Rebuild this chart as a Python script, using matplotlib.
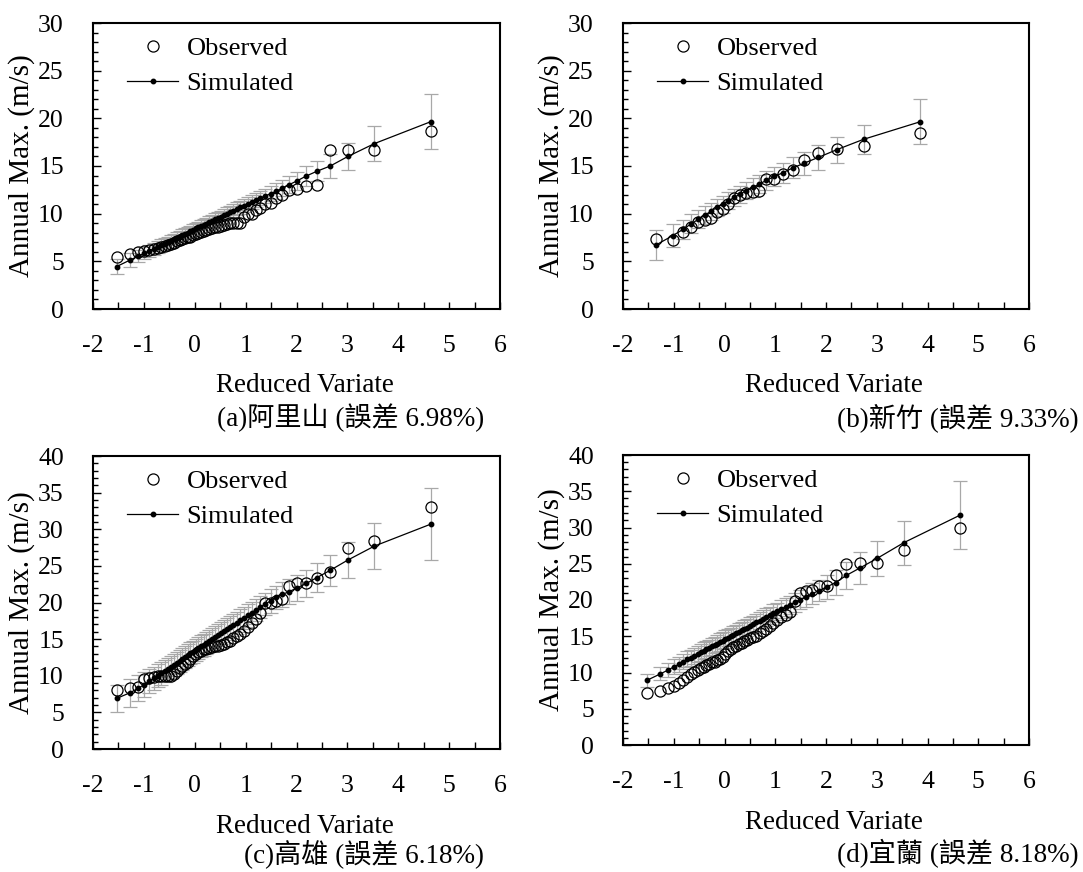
import matplotlib
matplotlib.use('Agg')
import matplotlib.pyplot as plt
from matplotlib.ticker import MultipleLocator

plt.rcParams['font.family'] = ['Liberation Serif', 'Noto Sans CJK TC']
plt.rcParams['axes.unicode_minus'] = False
plt.rcParams['font.size'] = 18.5

# reduced variate positions (52 yrs / 24 yrs of record)
x52 = [-1.536, -1.266, -1.110, -0.993, -0.895, -0.809, -0.732, -0.661, -0.594, -0.531,
       -0.470, -0.411, -0.355, -0.299, -0.245, -0.191, -0.138, -0.085, -0.033, 0.019,
       0.072, 0.124, 0.177, 0.230, 0.284, 0.339, 0.394, 0.451, 0.509, 0.568,
       0.628, 0.691, 0.755, 0.822, 0.891, 0.963, 1.039, 1.118, 1.202, 1.291,
       1.387, 1.489, 1.601, 1.723, 1.859, 2.014, 2.191, 2.402, 2.664, 3.010,
       3.531, 4.640]
x24 = [-1.354, -1.020, -0.816, -0.655, -0.515, -0.388, -0.267, -0.151, -0.037, 0.076,
       0.190, 0.307, 0.427, 0.553, 0.685, 0.827, 0.982, 1.152, 1.346, 1.572,
       1.848, 2.207, 2.740, 3.861]

# (a) Alishan
obs_a = [5.5, 5.8, 6.0, 6.1, 6.2, 6.3, 6.4, 6.5, 6.6, 6.7,
         6.8, 6.9, 7.1, 7.2, 7.3, 7.4, 7.5, 7.6, 7.8, 7.9,
         8.0, 8.1, 8.2, 8.3, 8.4, 8.5, 8.6, 8.6, 8.7, 8.8,
         8.9, 9.0, 9.0, 9.0, 9.0, 9.7, 10.0, 10.0, 10.4, 10.6,
         11.0, 11.1, 11.6, 12.0, 12.5, 12.6, 12.9, 13.0, 16.7, 16.7,
         16.7, 18.7]
sim_a = [4.45, 5.15, 5.55, 5.85, 6.1, 6.3, 6.5, 6.7, 6.85, 7.0,
         7.15, 7.3, 7.45, 7.6, 7.75, 7.9, 8.0, 8.15, 8.3, 8.45,
         8.55, 8.7, 8.85, 8.95, 9.1, 9.25, 9.4, 9.55, 9.7, 9.85,
         10.0, 10.15, 10.3, 10.5, 10.65, 10.85, 11.05, 11.25, 11.45, 11.65,
         11.85, 12.1, 12.35, 12.7, 13.05, 13.45, 13.95, 14.45, 15.0, 16.0,
         17.35, 19.65]
err_a = [0.75, 0.7, 0.65, 0.62, 0.6, 0.6, 0.6, 0.6, 0.6, 0.6,
         0.6, 0.6, 0.6, 0.6, 0.6, 0.6, 0.6, 0.6, 0.6, 0.6,
         0.6, 0.6, 0.6, 0.62, 0.62, 0.62, 0.62, 0.63, 0.63, 0.64,
         0.65, 0.66, 0.67, 0.68, 0.69, 0.7, 0.71, 0.72, 0.73, 0.75,
         0.77, 0.79, 0.82, 0.85, 0.88, 0.92, 1.0, 1.05, 1.25, 1.45,
         1.85, 2.9]

# (b) Hsinchu
obs_b = [7.3, 7.25, 8.05, 8.65, 9.15, 9.35, 9.5, 10.2, 10.45, 11.0,
         11.6, 11.95, 12.2, 12.3, 12.4, 13.65, 13.65, 14.2, 14.6, 15.6,
         16.4, 16.75, 17.1, 18.5]
sim_b = [6.7, 7.7, 8.35, 8.95, 9.4, 9.85, 10.25, 10.65, 11.0, 11.35,
         11.7, 12.05, 12.4, 12.75, 13.1, 13.5, 13.9, 14.3, 14.8, 15.3,
         15.9, 16.7, 17.8, 19.65]
err_b = [1.55, 1.2, 1.0, 1.0, 0.95, 0.95, 0.9, 0.9, 0.9, 0.9,
         0.9, 0.9, 0.9, 0.95, 0.95, 1.0, 1.0, 1.05, 1.1, 1.2,
         1.3, 1.35, 1.5, 2.35]

# (c) Kaohsiung
obs_c = [8.1, 8.3, 8.5, 9.6, 9.7, 9.8, 9.9, 9.9, 9.9, 10.0,
         10.0, 10.3, 10.7, 11.0, 11.3, 11.6, 11.9, 12.3, 12.7, 13.0,
         13.2, 13.4, 13.6, 13.7, 13.8, 13.9, 14.0, 14.1, 14.2, 14.4,
         14.6, 14.8, 15.1, 15.4, 15.7, 16.1, 16.6, 17.2, 17.8, 18.5,
         19.9, 20.0, 20.2, 20.5, 22.3, 22.6, 22.6, 23.4, 24.2, 27.5,
         28.4, 33.0]
sim_c = [6.9, 7.7, 8.3, 8.8, 9.25, 9.65, 10.0, 10.35, 10.65, 10.95,
         11.25, 11.5, 11.8, 12.05, 12.3, 12.55, 12.8, 13.05, 13.3, 13.55,
         13.8, 14.0, 14.25, 14.5, 14.75, 15.0, 15.25, 15.5, 15.8, 16.05,
         16.35, 16.65, 16.95, 17.25, 17.55, 17.9, 18.25, 18.6, 19.0, 19.4,
         19.8, 20.2, 20.7, 21.1, 21.5, 22.0, 22.6, 23.4, 24.4, 25.8,
         27.7, 30.7]
err_c = [1.8, 1.9, 1.8, 1.7, 1.65, 1.6, 1.6, 1.55, 1.55, 1.5,
         1.5, 1.5, 1.5, 1.5, 1.5, 1.5, 1.5, 1.5, 1.5, 1.5,
         1.5, 1.5, 1.5, 1.5, 1.5, 1.5, 1.5, 1.5, 1.5, 1.5,
         1.5, 1.5, 1.5, 1.5, 1.52, 1.52, 1.53, 1.53, 1.54, 1.55,
         1.55, 1.6, 1.6, 1.65, 1.7, 1.75, 1.8, 2.0, 2.1, 2.5,
         3.1, 4.9]

# (d) Yilan
obs_d = [7.2, 7.4, 7.8, 8.2, 8.6, 9.0, 9.4, 9.8, 10.1, 10.4,
         10.6, 10.8, 11.0, 11.2, 11.4, 11.5, 11.7, 11.9, 12.2, 12.6,
         13.0, 13.3, 13.5, 13.7, 13.9, 14.1, 14.3, 14.5, 14.7, 14.9,
         15.1, 15.4, 15.7, 16.0, 16.4, 16.8, 17.2, 17.6, 18.0, 18.4,
         19.8, 20.9, 21.2, 21.4, 21.9, 21.9, 23.4, 25.0, 25.1, 25.1,
         26.9, 30.0]
sim_d = [8.9, 9.8, 10.35, 10.8, 11.15, 11.5, 11.8, 12.05, 12.3, 12.55,
         12.8, 13.0, 13.2, 13.4, 13.6, 13.8, 14.0, 14.2, 14.4, 14.6,
         14.8, 15.0, 15.2, 15.4, 15.6, 15.8, 16.0, 16.2, 16.45, 16.65,
         16.9, 17.15, 17.4, 17.65, 17.9, 18.2, 18.45, 18.75, 19.05, 19.35,
         19.7, 20.05, 20.45, 20.85, 21.3, 21.8, 22.4, 23.4, 24.4, 25.75,
         27.9, 31.7]
err_d = [0.85, 0.9, 0.95, 1.0, 1.05, 1.05, 1.1, 1.1, 1.1, 1.1,
         1.15, 1.15, 1.15, 1.15, 1.15, 1.15, 1.15, 1.2, 1.2, 1.2,
         1.2, 1.2, 1.2, 1.2, 1.2, 1.2, 1.2, 1.2, 1.2, 1.2,
         1.2, 1.2, 1.2, 1.2, 1.2, 1.2, 1.2, 1.22, 1.22, 1.25,
         1.3, 1.35, 1.4, 1.45, 1.5, 1.6, 1.7, 1.9, 2.2, 2.4,
         3.05, 4.7]

captions = ['(a)阿里山 (誤差 6.98%)', '(b)新竹 (誤差 9.33%)',
            '(c)高雄 (誤差 6.18%)', '(d)宜蘭 (誤差 8.18%)']

W, H = 1083, 872
fig = plt.figure(figsize=(W / 100, H / 100), dpi=100)


def add_panel(box, x, obs, sim, err, ymax):
    l, t, r, b = box
    ax = fig.add_axes([l / W, 1 - b / H, (r - l) / W, (b - t) / H])
    ax.errorbar(x, sim, yerr=err, fmt='none', ecolor='#a8a8a8', elinewidth=0.9,
                capsize=5, capthick=0.9, zorder=1)
    ax.plot(x, obs, 'o', mfc='none', mec='black', mew=0.9, ms=8,
            label='Observed', zorder=2)
    ax.plot(x, sim, '-o', color='black', lw=0.9, ms=3.2,
            label='Simulated', zorder=3)
    ax.set_xlim(-2, 6)
    ax.set_ylim(0, ymax)
    ax.xaxis.set_major_locator(MultipleLocator(1))
    ax.xaxis.set_minor_locator(MultipleLocator(0.5))
    ax.yaxis.set_major_locator(MultipleLocator(5))
    ax.yaxis.set_minor_locator(MultipleLocator(1))
    ax.tick_params(which='both', direction='in', top=False, right=False, width=1)
    ax.tick_params(axis='x', which='both', length=5, pad=19)
    ax.tick_params(axis='y', which='major', length=5.5, pad=21)
    ax.tick_params(axis='y', which='minor', length=3.5)
    for s in ax.spines.values():
        s.set_linewidth(1.5)
    ax.set_xlabel('Reduced Variate', va='center', fontsize=19.5)
    ax.set_ylabel('Annual Max. (m/s)', va='center', fontsize=21)
    hgt = b - t
    ax.xaxis.set_label_coords(0.52, -77 / hgt)
    ax.yaxis.set_label_coords(-71 / (r - l), 0.5)
    ax.legend(loc='upper left', bbox_to_anchor=(34 / (r - l), 1 - 14 / hgt),
              frameon=False, borderpad=0, borderaxespad=0, handlelength=1.95,
              handletextpad=0.3, labelspacing=0.42, fontsize=19)
    return ax


add_panel((93, 23, 500, 309), x52, obs_a, sim_a, err_a, 30)
add_panel((623, 23, 1029, 309), x24, obs_b, sim_b, err_b, 30)
add_panel((93, 456, 500, 749), x52, obs_c, sim_c, err_c, 40)
add_panel((623, 455, 1029, 745), x52, obs_d, sim_d, err_d, 40)

cap_fs = 19.5
fig.text(484 / W, 1 - 418 / H, captions[0], ha='right', va='center', fontsize=cap_fs)
fig.text(1079 / W, 1 - 418 / H, captions[1], ha='right', va='center', fontsize=cap_fs)
fig.text(484 / W, 1 - 854 / H, captions[2], ha='right', va='center', fontsize=cap_fs)
fig.text(1079 / W, 1 - 854 / H, captions[3], ha='right', va='center', fontsize=cap_fs)

fig.savefig('out.png', dpi=100)
